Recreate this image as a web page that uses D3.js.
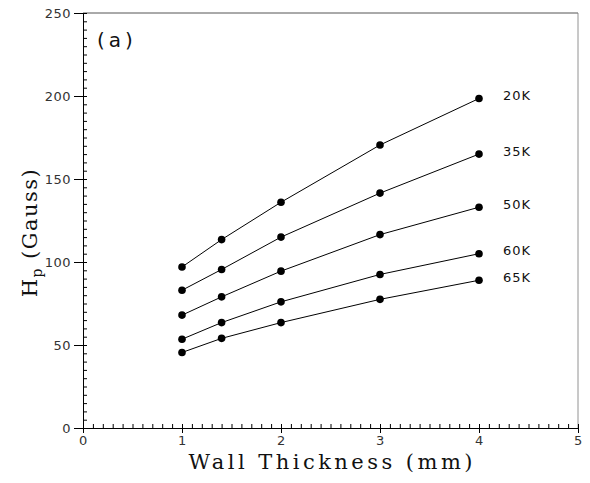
<!DOCTYPE html>
<html>
<head>
<meta charset="utf-8">
<script src="https://cdn.jsdelivr.net/npm/d3@7"></script>
<style>
  body { margin: 0; background: #fff; }
  .tick text { font-family: 'DejaVu Sans', sans-serif; font-size: 13px; fill: #333; letter-spacing: 0.5px; }
  .domain { stroke: #000; }
</style>
</head>
<body>
<svg id="chart" width="590" height="483"></svg>
<script>
// wall thickness (mm)
const thickness = [1, 1.4, 2, 3, 4]

// Hp (Gauss) at each temperature
const temps = ['20K', '35K', '50K', '60K', '65K']
const hp20 = [97, 113.5, 136, 170.5, 198.5]
const hp35 = [83, 95.5, 115, 141.5, 165]
const hp50 = [68, 79, 94.5, 116.5, 133]
const hp60 = [53.5, 63.5, 76, 92.5, 105]
const hp65 = [45.5, 54, 63.5, 77.5, 89]

const xTicks = [0, 1, 2, 3, 4, 5]
const yTicks = [0, 50, 100, 150, 200, 250]

const series = [hp20, hp35, hp50, hp60, hp65].map((vals, i) => ({
  label: temps[i],
  points: vals.map((v, j) => ({ x: thickness[j], y: v })),
}))

const margin = { top: 13, right: 12, bottom: 55, left: 83 }
const width = 590 - margin.left - margin.right
const height = 483 - margin.top - margin.bottom

const svg = d3
  .select('#chart')
  .append('g')
  .attr('transform', `translate(${margin.left}, ${margin.top})`)

const xScale = d3.scaleLinear().domain([0, 5]).range([0, width])
const yScale = d3.scaleLinear().domain([0, 250]).range([height, 0])

// frame: top and right lighter
svg
  .append('line')
  .attr('x1', 0)
  .attr('x2', width)
  .attr('y1', 0)
  .attr('y2', 0)
  .attr('stroke', '#555')
  .attr('stroke-width', 1)
svg
  .append('line')
  .attr('x1', width)
  .attr('x2', width)
  .attr('y1', 0)
  .attr('y2', height)
  .attr('stroke', '#777')
  .attr('stroke-width', 0.8)

// minor ticks pointing in
svg
  .append('g')
  .attr('transform', `translate(0, ${height})`)
  .call(d3.axisBottom(xScale).tickValues(d3.range(0, 5.001, 0.1)).tickSize(-4).tickFormat(''))
  .call(g => g.select('.domain').remove())
svg
  .append('g')
  .call(d3.axisLeft(yScale).tickValues(d3.range(0, 250.1, 5)).tickSize(-4).tickFormat(''))
  .call(g => g.select('.domain').remove())

// major ticks pointing out
svg
  .append('g')
  .attr('transform', `translate(0, ${height})`)
  .call(
    d3.axisBottom(xScale).tickValues(xTicks).tickFormat(d3.format('d'))
      .tickSize(5).tickSizeOuter(0).tickPadding(3)
  )
svg
  .append('g')
  .call(d3.axisLeft(yScale).tickValues(yTicks).tickSize(9).tickSizeOuter(0).tickPadding(3))

const line = d3
  .line()
  .x(d => xScale(d.x))
  .y(d => yScale(d.y))

const groups = svg
  .selectAll('g.series')
  .data(series)
  .join('g')
  .attr('class', 'series')

groups
  .append('path')
  .attr('d', d => line(d.points))
  .attr('fill', 'none')
  .attr('stroke', '#000')
  .attr('stroke-width', 1)

groups
  .selectAll('circle')
  .data(d => d.points)
  .join('circle')
  .attr('cx', d => xScale(d.x))
  .attr('cy', d => yScale(d.y))
  .attr('r', 3.8)
  .attr('fill', '#000')

groups
  .append('text')
  .attr('x', d => xScale(d.points[d.points.length - 1].x) + 24)
  .attr('y', d => yScale(d.points[d.points.length - 1].y) - 3)
  .attr('dy', '0.35em')
  .attr('font-family', "'DejaVu Sans', sans-serif")
  .attr('font-size', 13)
  .attr('letter-spacing', 1)
  .attr('fill', '#111')
  .text(d => d.label)

svg
  .append('text')
  .attr('x', 14)
  .attr('y', 34)
  .attr('font-family', "'DejaVu Sans', sans-serif")
  .attr('font-size', 20)
  .attr('letter-spacing', 4)
  .attr('fill', '#111')
  .text('(a)')

// axis titles
svg
  .append('text')
  .attr('x', width / 2)
  .attr('y', height + 41)
  .attr('text-anchor', 'middle')
  .attr('font-family', "'DejaVu Serif', serif")
  .attr('font-size', 21)
  .attr('textLength', 284)
  .attr('lengthAdjust', 'spacing')
  .attr('fill', '#111')
  .text('Wall Thickness (mm)')

const yTitle = svg
  .append('text')
  .attr('transform', `translate(-46, ${height / 2 + 12}) rotate(-90)`)
  .attr('text-anchor', 'middle')
  .attr('font-family', "'DejaVu Serif', serif")
  .attr('font-size', 21)
  .attr('letter-spacing', 1.5)
  .attr('fill', '#111')
yTitle.append('tspan').text('H')
yTitle.append('tspan').attr('font-size', 14).attr('dy', 5).text('p')
yTitle.append('tspan').attr('dy', -5).attr('dx', 8).text('(Gauss)')
</script>
</body>
</html>
